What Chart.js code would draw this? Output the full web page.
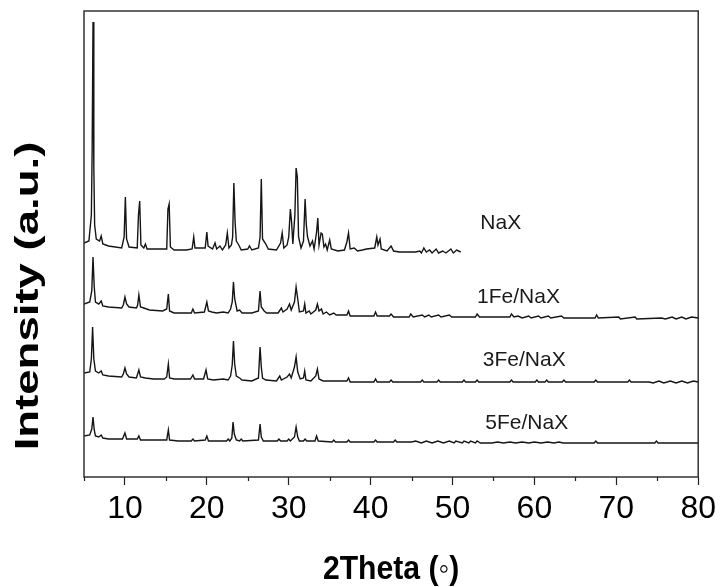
<!DOCTYPE html>
<html>
<head>
<meta charset="utf-8">
<script src="https://cdn.jsdelivr.net/npm/chart.js@4.4.0/dist/chart.umd.min.js"></script>
<style>
	body { margin: 0; background: #fff; }
	canvas { display: block; }
</style>
</head>
<body>
<canvas id="xrdChart" width="721" height="587"></canvas>
<script>
// XRD patterns, stacked by hand offset
const naxTheta = [
	5.0, 5.6, 5.9, 6.0, 6.1, 6.2, 6.3, 6.5, 6.9, 7.1, 7.3, 8.0, 9.6, 9.9, 10.05, 10.2, 10.5,
	11.5, 11.65, 11.8, 11.95, 12.3, 12.5, 12.7, 14.0, 15.1, 15.25, 15.4, 15.55, 16.0, 17.5,
	18.2, 18.4, 18.55, 19.8, 20.0, 20.15, 20.7, 21.0, 21.2, 21.6, 21.9, 22.3, 22.5, 22.7,
	23.0, 23.15, 23.3, 23.45, 23.6, 23.9, 24.2, 25.0, 25.2, 25.5, 26.3, 26.5, 26.65, 26.8,
	27.2, 27.5, 28.5, 29.0, 29.2, 29.4, 29.8, 30.0, 30.2, 30.35, 30.5, 30.75, 30.9, 31.05,
	31.2, 31.5, 31.8, 32.0, 32.15, 32.3, 32.6, 32.9, 33.1, 33.4, 33.55, 33.7, 33.95, 34.1,
	34.3, 34.5, 34.7, 35.0, 35.2, 36.0, 36.8, 37.1, 37.3, 37.5, 38.0, 38.4, 39.0, 39.5,
	40.5, 40.75, 40.9, 41.15, 41.3, 42.0, 42.5, 42.8, 43.5, 45.5, 46.0, 46.2, 46.5, 46.8,
	47.2, 47.5, 48.0, 48.3, 48.8, 49.2, 49.8, 50.1, 50.5, 51.0
];
const naxCounts = [
	234, 236, 262, 330, 455, 310, 252, 238, 236, 241, 233, 231, 229, 240, 280, 238, 230,
	229, 262, 276, 232, 229, 233, 228, 228, 228, 268, 273, 230, 227, 227,
	228, 240, 229, 229, 245, 231, 228, 234, 228, 231, 227, 232, 244, 229,
	232, 240, 294, 255, 236, 232, 227, 228, 231, 227, 229, 240, 298, 238,
	233, 228, 227, 234, 244, 229, 232, 240, 268, 255, 233, 262, 309, 300,
	240, 229, 236, 278, 252, 240, 231, 236, 228, 245, 259, 232, 244, 243,
	230, 233, 227, 237, 228, 226, 227, 235, 244, 228, 229, 226, 227, 228,
	229, 240, 232, 238, 228, 226, 231, 226, 225, 225, 226, 224, 229, 225,
	227, 224, 228, 224, 226, 224, 228, 224, 227, 225
];

const fe1Theta = [
	5.0, 5.7, 5.95, 6.1, 6.25, 6.4, 6.8, 7.1, 7.3, 8.0, 9.6, 9.8, 10.0, 10.2, 10.5,
	11.4, 11.55, 11.7, 11.9, 12.3, 13.0, 14.6, 15.1, 15.3, 15.45, 16.0, 17.5, 18.1, 18.3, 18.5,
	19.7, 20.0, 20.2, 20.6, 21.2, 22.0, 22.6, 22.9, 23.1, 23.25, 23.4, 23.7, 24.0, 24.3, 25.5,
	26.3, 26.5, 26.65, 27.0, 27.3, 28.7, 29.1, 29.3, 29.8, 30.1, 30.3, 30.7, 30.9, 31.1, 31.3,
	31.8, 31.95, 32.1, 32.5, 32.7, 33.3, 33.5, 33.7, 34.0, 34.2, 34.6, 35.0, 35.5, 35.8, 36.5,
	37.1, 37.3, 37.5, 38.5, 40.4, 40.6, 40.8, 42.3, 42.5, 42.8, 44.7, 44.9, 45.2, 46.3, 46.6,
	47.1, 47.4, 48.3, 48.6, 49.6, 49.9, 52.8, 53.0, 53.3, 57.0, 57.2, 57.5, 58.0, 58.5, 59.3,
	59.6, 60.5, 60.8, 61.7, 62.0, 63.3, 63.6, 67.4, 67.6, 67.8, 70.3, 70.5, 72.3, 72.5, 75.5,
	76.0, 76.8, 77.3, 78.0, 78.5, 79.2, 80.0
];
const fe1Counts = [
	173, 175, 186, 220, 190, 175, 173, 176, 171, 170, 169, 172, 180, 173, 170,
	169, 172, 182, 170, 169, 167, 166, 168, 183, 166, 164, 164, 164, 168, 164,
	165, 175, 166, 165, 164, 165, 164, 168, 175, 195, 178, 166, 167, 164, 164,
	166, 186, 170, 166, 164, 164, 169, 165, 168, 173, 167, 175, 190, 178, 165,
	166, 173, 164, 166, 163, 167, 173, 166, 168, 163, 165, 162, 164, 162, 162,
	162, 166, 161, 161, 161, 165, 161, 161, 163, 160, 160, 163, 160, 162, 160,
	162, 160, 162, 160, 162, 160, 160, 163, 160, 160, 163, 160, 161, 159, 161,
	159, 161, 159, 161, 159, 161, 159, 159, 162, 159, 160, 158, 160, 158, 159,
	158, 160, 158, 160, 158, 160, 159
];

const fe3Theta = [
	5.0, 5.7, 5.9, 6.05, 6.2, 6.4, 6.8, 7.1, 7.3, 8.0, 9.6, 9.8, 10.0, 10.2, 10.5,
	11.4, 11.7, 11.9, 12.5, 13.5, 14.8, 15.1, 15.3, 15.45, 16.0, 18.0, 18.3, 18.5, 19.6, 19.9,
	20.1, 20.8, 22.0, 22.6, 22.9, 23.1, 23.25, 23.4, 23.6, 24.0, 24.3, 25.5, 26.3, 26.5, 26.65,
	26.8, 27.2, 28.5, 28.9, 29.1, 29.8, 30.1, 30.3, 30.7, 30.9, 31.1, 31.4, 31.8, 31.95, 32.1,
	32.7, 33.3, 33.5, 33.7, 34.2, 35.0, 37.1, 37.3, 37.5, 40.4, 40.6, 40.8, 42.3, 42.5, 42.7,
	46.1, 46.3, 46.5, 48.1, 48.3, 48.5, 51.2, 51.4, 51.6, 52.8, 53.0, 53.2, 57.0, 57.2, 57.4,
	60.1, 60.3, 60.5, 61.3, 61.5, 61.7, 63.4, 63.6, 63.8, 67.3, 67.5, 67.7, 71.4, 71.6, 71.8,
	74.0, 74.5, 75.2, 75.8, 76.6, 77.3, 78.0, 78.7, 79.4, 80.0
];
const fe3Counts = [
	104, 105, 118, 150, 118, 106, 104, 106, 102, 101, 100, 103, 109, 103, 100,
	99, 107, 100, 99, 98, 98, 100, 113, 99, 98, 98, 102, 98, 98, 107,
	98, 97, 98, 97, 101, 112, 136, 113, 101, 99, 97, 96, 99, 130, 110,
	99, 97, 96, 101, 97, 100, 103, 99, 110, 120, 105, 98, 99, 106, 97,
	96, 101, 108, 98, 96, 96, 96, 99, 95, 95, 98, 95, 95, 97, 95,
	95, 97, 95, 95, 97, 95, 95, 97, 95, 95, 97, 95, 95, 97, 95,
	95, 97, 95, 95, 97, 95, 95, 97, 95, 95, 97, 95, 95, 97, 95,
	95, 94, 96, 94, 96, 94, 96, 94, 96, 95
];

const fe5Theta = [
	5.0, 5.7, 5.95, 6.1, 6.25, 6.4, 6.8, 7.1, 7.3, 8.0, 9.7, 10.0, 10.2, 11.5, 11.7,
	11.9, 13.0, 15.1, 15.3, 15.45, 16.5, 18.1, 18.3, 18.5, 19.8, 20.0, 20.2, 22.4, 22.6, 22.8,
	23.05, 23.2, 23.35, 23.6, 24.0, 24.2, 24.4, 26.3, 26.5, 26.65, 26.9, 28.6, 28.8, 29.0, 29.8,
	30.0, 30.2, 30.7, 30.9, 31.1, 31.3, 31.8, 32.0, 32.2, 33.2, 33.4, 33.6, 35.3, 35.5, 35.7,
	37.1, 37.3, 37.5, 40.4, 40.6, 40.8, 42.8, 43.0, 43.2, 45.0, 45.5, 46.2, 46.8, 47.5, 48.2,
	48.9, 49.6, 50.2, 50.4, 51.2, 51.4, 52.0, 52.2, 52.8, 53.0, 53.4, 54.8, 55.5, 56.2, 57.0,
	57.7, 58.5, 59.3, 60.0, 60.8, 61.6, 62.4, 63.0, 63.5, 67.3, 67.5, 67.7, 74.7, 74.9, 75.1,
	80.0
];
const fe5Counts = [
	41, 42, 48, 60, 47, 41, 40, 42, 39, 38, 38, 44, 38, 38, 41,
	37, 37, 37, 47, 37, 36, 36, 38, 36, 37, 41, 36, 36, 38, 36,
	39, 55, 43, 37, 36, 38, 36, 37, 53, 40, 36, 36, 38, 36, 36,
	38, 36, 40, 50, 40, 36, 36, 38, 36, 36, 41, 36, 35, 37, 35,
	35, 37, 35, 35, 37, 35, 35, 37, 35, 35, 36, 34, 36, 34, 36,
	34, 36, 34, 36, 34, 36, 34, 36, 34, 36, 34, 34, 35, 34, 35,
	34, 35, 34, 35, 34, 35, 34, 35, 34, 34, 36, 34, 34, 36, 34,
	34
];

const seriesNames = ["NaX", "1Fe/NaX", "3Fe/NaX", "5Fe/NaX"];
const labelTheta = [53.4, 53.0, 53.7, 54.0];
const labelLevel = [254, 180, 117, 54];

const majorTicks = [10, 20, 30, 40, 50, 60, 70, 80];
const minorTicks = [5, 15, 25, 35, 45, 55, 65, 75];

function toPoints(theta, counts) {
	return theta.map((t, i) => ({ x: t, y: counts[i] }));
}

function makeSet(name, theta, counts) {
	return {
		label: name,
		data: toPoints(theta, counts),
		borderColor: '#151515',
		borderWidth: 1.4,
		pointRadius: 0,
		tension: 0,
		fill: false
	};
}

const decorPlugin = {
	id: 'decor',
	afterDraw(chart) {
		const ctx = chart.ctx;
		const area = chart.chartArea;
		const xs = chart.scales.x;
		const ys = chart.scales.y;

		ctx.save();
		// frame
		ctx.strokeStyle = '#333';
		ctx.lineWidth = 1.5;
		ctx.strokeRect(area.left, area.top, area.right - area.left, area.bottom - area.top);

		// minor ticks
		ctx.lineWidth = 1.2;
		ctx.strokeStyle = '#222';
		minorTicks.forEach(v => {
			const px = Math.round(xs.getPixelForValue(v)) + 0.5;
			ctx.beginPath();
			ctx.moveTo(px, area.bottom);
			ctx.lineTo(px, area.bottom + 4);
			ctx.stroke();
		});

		// sample names
		ctx.fillStyle = '#1a1a1a';
		ctx.font = '21px "Liberation Sans", Arial, sans-serif';
		ctx.textAlign = 'left';
		ctx.textBaseline = 'middle';
		seriesNames.forEach((name, i) => {
			ctx.fillText(name, xs.getPixelForValue(labelTheta[i]), ys.getPixelForValue(labelLevel[i]));
		});

		// axis titles
		ctx.fillStyle = '#000';
		ctx.textAlign = 'center';
		ctx.save();
		ctx.translate((area.left + area.right) / 2, 570);
		ctx.scale(1.04, 1.12);
		ctx.font = 'bold 29px "Liberation Sans", Arial, sans-serif';
		ctx.fillText('2Theta (◦)', 0, 0);
		ctx.restore();

		ctx.translate(29, 296);
		ctx.rotate(-Math.PI / 2);
		ctx.scale(1.38, 1);
		ctx.font = 'bold 33px "Liberation Sans", Arial, sans-serif';
		ctx.fillText('Intensity (a.u.)', 0, 0);
		ctx.restore();
	}
};

window.addEventListener('DOMContentLoaded', () => {
	const xrdChart = document.getElementById("xrdChart");

	new Chart(xrdChart, {
		type: 'line',
		data: {
			datasets: [
				makeSet(seriesNames[0], naxTheta, naxCounts),
				makeSet(seriesNames[1], fe1Theta, fe1Counts),
				makeSet(seriesNames[2], fe3Theta, fe3Counts),
				makeSet(seriesNames[3], fe5Theta, fe5Counts)
			]
		},
		options: {
			responsive: false,
			animation: false,
			layout: { padding: { left: 84, top: 11, right: 21, bottom: 0 } },
			plugins: {
				legend: { display: false },
				tooltip: { enabled: false }
			},
			scales: {
				x: {
					type: 'linear',
					min: 5,
					max: 80,
					afterBuildTicks: scale => {
						scale.ticks = majorTicks.map(v => ({ value: v }));
					},
					afterFit: scale => {
						scale.height = 110;
					},
					border: { display: false },
					grid: {
						drawOnChartArea: false,
						drawTicks: true,
						tickLength: 8,
						tickColor: '#222',
						tickWidth: 1.2
					},
					ticks: {
						color: '#000',
						padding: 5,
						maxRotation: 0,
						font: { family: '"Liberation Sans", Arial, sans-serif', size: 32 }
					}
				},
				y: {
					display: false,
					min: 0,
					max: 466
				}
			}
		},
		plugins: [decorPlugin]
	});
});
</script>
</body>
</html>
